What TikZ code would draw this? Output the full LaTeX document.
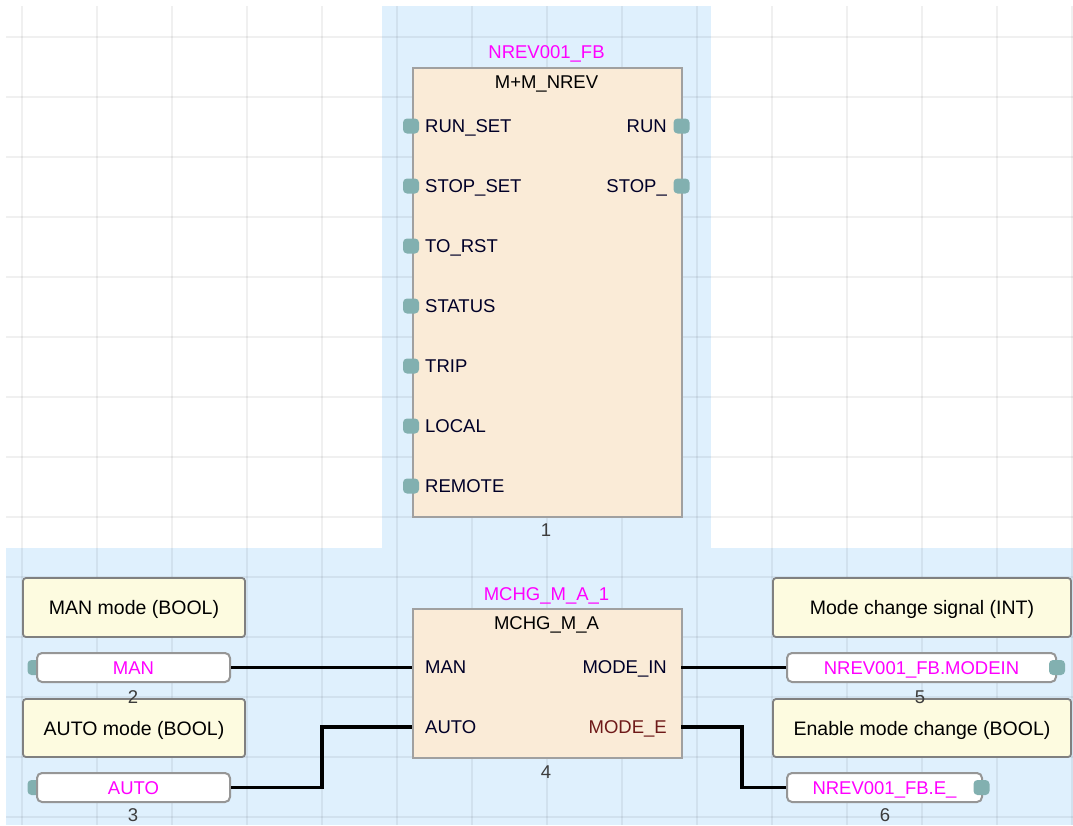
\documentclass[tikz,border=0pt]{standalone}
\usepackage{fontspec}
\setmainfont{Liberation Sans}
\definecolor{bluebg}{RGB}{223,240,253}
\definecolor{fbfill}{RGB}{250,235,215}
\definecolor{fbborder}{RGB}{160,160,160}
\definecolor{cmtfill}{RGB}{253,251,224}
\definecolor{cmtborder}{RGB}{128,128,128}
\definecolor{varborder}{RGB}{150,150,150}
\definecolor{pincol}{RGB}{130,176,176}
\definecolor{magentatxt}{RGB}{255,0,255}
\definecolor{numcol}{RGB}{60,60,60}
\definecolor{pintxt}{RGB}{0,0,40}
\definecolor{maroon}{RGB}{110,25,25}
\begin{document}
\begin{tikzpicture}[x=1pt,y=-1pt,
  every node/.style={font=\fontsize{18.5}{20}\selectfont},
  txt/.style={inner sep=0pt, text height=13.2pt, text depth=0pt, text=pintxt},
  inst/.style={txt, text=magentatxt},
  num/.style={txt, text=numcol},
  gridline/.style={black, opacity=0.06, line width=2pt},
  fbbox/.style={draw=fbborder, line width=2pt, fill=fbfill, inner sep=0pt, anchor=north west},
  cmt/.style={draw=cmtborder, line width=1.8pt, fill=cmtfill, rounded corners=3pt, inner sep=0pt, text height=14pt, text depth=0pt, text=black, font=\fontsize{19.5}{21}\selectfont},
  var/.style={draw=varborder, line width=2pt, fill=white, rounded corners=5pt, inner sep=0pt, text height=13.2pt, text depth=0pt, text=magentatxt},
  pinbox/.style={fill=pincol, rounded corners=4pt, minimum width=16pt, minimum height=15pt, inner sep=0pt},
  wire/.style={black, line width=3.5pt}]
\useasboundingbox (0,0) rectangle (1073,825);
\fill[white] (0,0) rectangle (1073,825);
\fill[bluebg] (382,6) rectangle (711,548);
\fill[bluebg] (6,548) rectangle (1073,825);
\foreach \i in {0,...,14} \draw[gridline] ({21.7+75*\i},6) -- ({21.7+75*\i},825);
\foreach \j in {0,...,13} \draw[gridline] (6,{36.7+60*\j}) -- (1073,{36.7+60*\j});

% ---- Top function block ----
\node[fbbox, minimum width=269pt, minimum height=449pt] (fb1) at (412,67) {};
\node[inst] (fb1inst) at (546.5,52) {NREV001\_FB};
\node[txt, text=black] (fb1type) at (546.5,82) {M+M\_NREV};
\foreach \n/\y [count=\k] in {RUN\_SET/126, STOP\_SET/186, TO\_RST/246, STATUS/306, TRIP/366, LOCAL/426, REMOTE/486} {
  \node[pinbox] (fb1inpin\k) at (411,\y) {};
  \node[txt, anchor=west] (fb1in\k) at (425,\y) {\n};
}
\node[pinbox] (fb1outpin1) at (681.5,126) {};
\node[txt, anchor=east] (fb1out1) at (667,126) {RUN};
\node[pinbox] (fb1outpin2) at (681.5,186) {};
\node[txt, anchor=east] (fb1out2) at (667,186) {STOP\_};
\node[num] (n1) at (546,530) {1};

% ---- Bottom function block ----
\node[fbbox, minimum width=269pt, minimum height=149pt] (fb2) at (412,608) {};
\node[inst] (fb2inst) at (546.5,593.5) {MCHG\_M\_A\_1};
\node[txt, text=black] (fb2type) at (546.5,623) {MCHG\_M\_A};
\node[txt, anchor=west] (fb2man) at (425,667) {MAN};
\node[txt, anchor=west] (fb2auto) at (425,727) {AUTO};
\node[txt, anchor=east] (fb2modein) at (667,667) {MODE\_IN};
\node[txt, anchor=east, text=maroon] (fb2modee) at (667,727) {MODE\_E};
\coordinate (fb2MAN) at (412,667.5);
\coordinate (fb2AUTO) at (412,727);
\coordinate (fb2MODEIN) at (681,667.5);
\coordinate (fb2MODEE) at (681,727);

% ---- Left side ----
\node[cmt, minimum width=222pt, minimum height=59pt] (cMAN) at (134,607.5) {MAN mode (BOOL)};
\node[pinbox] (pMAN) at (35.5,667.5) {};
\node[var, minimum width=193pt, minimum height=29pt] (vMAN) at (133.5,667.5) {MAN};
\node[cmt, minimum width=222pt, minimum height=58pt] (cAUTO) at (134,728) {AUTO mode (BOOL)};
\node[pinbox] (pAUTO) at (35.5,787.5) {};
\node[var, minimum width=193pt, minimum height=29pt] (vAUTO) at (133.5,787.5) {AUTO};

% ---- Right side ----
\node[cmt, minimum width=298pt, minimum height=59pt] (cSIG) at (922,607.5) {Mode change signal (INT)};
\node[var, minimum width=269pt, minimum height=29pt] (vMODEIN) at (921.5,667.5) {NREV001\_FB.MODEIN};
\node[pinbox] (pMODEIN) at (1057,667.5) {};
\node[cmt, minimum width=298pt, minimum height=58pt] (cEN) at (922,728) {Enable mode change (BOOL)};
\node[var, minimum width=195pt, minimum height=29pt] (vE) at (884.5,787.5) {NREV001\_FB.E\_};
\node[pinbox] (pE) at (981.5,787.5) {};

% ---- Numbers ----
\node[num] (n2) at (133,697) {2};
\node[num] (n3) at (133,815) {3};
\node[num] (n4) at (546,772) {4};
\node[num] (n5) at (920,697) {5};
\node[num] (n6) at (885,815) {6};

% ---- Wires ----
\draw[wire] (vMAN.east) -- (fb2MAN);
\draw[wire] (vAUTO.east) -- ++(91,0) |- (fb2AUTO);
\draw[wire] (fb2MODEIN) -- (vMODEIN.west);
\draw[wire] (fb2MODEE) -- ++(61,0) |- (vE.west);
\end{tikzpicture}
\end{document}
